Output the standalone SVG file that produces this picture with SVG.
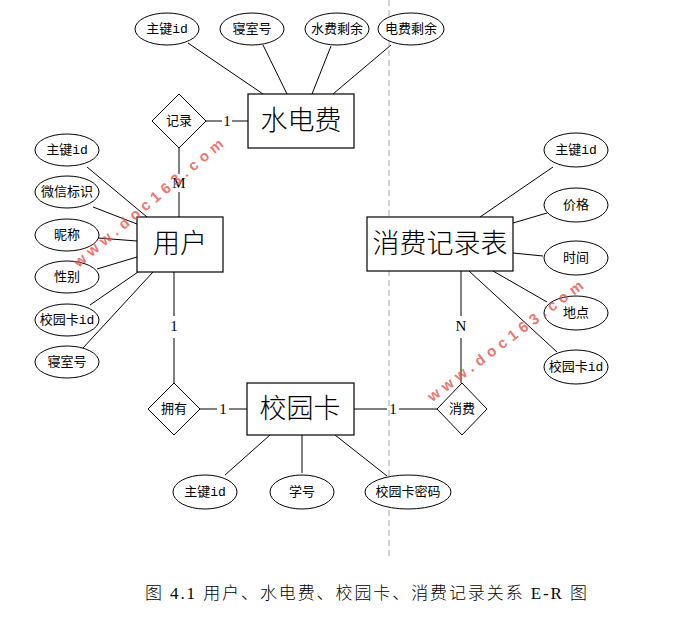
<svg xmlns="http://www.w3.org/2000/svg" width="682" height="620" viewBox="0 0 682 620">
<style>
.ent{fill:#fff;stroke:#000;stroke-width:1.2}
.att{fill:#fff;stroke:#000;stroke-width:1}
.rel{fill:#fff;stroke:#000;stroke-width:1}
.ln{stroke:#000;stroke-width:1;fill:none}
.et{font-family:"Liberation Serif","Noto Sans CJK SC",serif;font-size:27px;font-weight:300;text-anchor:middle;dominant-baseline:central}
.at{font-family:"Liberation Mono","Noto Sans CJK SC",monospace;font-size:13px;text-anchor:middle;dominant-baseline:central}
.card{font-family:"Liberation Serif",serif;font-size:15px;text-anchor:middle;dominant-baseline:central}
.cap{font-family:"Liberation Serif","Noto Sans CJK SC",serif;font-size:17px;font-weight:300}
.wm{font-family:"Liberation Sans",sans-serif;font-size:15px;font-weight:bold;fill:#e8504a;fill-opacity:0.8;letter-spacing:5px;text-anchor:middle;dominant-baseline:central}
</style>
<rect width="682" height="620" fill="#fff"/>
<line x1="389" y1="0" x2="389" y2="560" stroke="#aaa" stroke-width="1" stroke-dasharray="6,4"/>
<g id="connectors">
<line class="ln" x1="188" y1="43" x2="263" y2="94"/>
<line class="ln" x1="263" y1="45" x2="287" y2="94"/>
<line class="ln" x1="331" y1="46" x2="312" y2="94"/>
<line class="ln" x1="391" y1="45" x2="333" y2="94"/>
<line class="ln" x1="206" y1="121" x2="222" y2="121"/>
<line class="ln" x1="232" y1="121" x2="248" y2="121"/>
<line class="ln" x1="179" y1="148" x2="179" y2="174"/>
<line class="ln" x1="179" y1="192" x2="179" y2="217"/>
<line class="ln" x1="87" y1="167" x2="147" y2="217"/>
<line class="ln" x1="93" y1="207" x2="137" y2="224"/>
<line class="ln" x1="98" y1="238" x2="137" y2="241"/>
<line class="ln" x1="97" y1="269" x2="137" y2="257"/>
<line class="ln" x1="90" y1="305" x2="138" y2="272"/>
<line class="ln" x1="83" y1="348" x2="153" y2="272"/>
<line class="ln" x1="174" y1="272" x2="174" y2="316"/>
<line class="ln" x1="174" y1="338" x2="174" y2="383"/>
<line class="ln" x1="200" y1="409" x2="217" y2="409"/>
<line class="ln" x1="229" y1="409" x2="247" y2="409"/>
<line class="ln" x1="354" y1="409" x2="387" y2="409"/>
<line class="ln" x1="399" y1="409" x2="437" y2="409"/>
<line class="ln" x1="461" y1="271" x2="461" y2="316"/>
<line class="ln" x1="461" y1="338" x2="461" y2="383"/>
<line class="ln" x1="553" y1="167" x2="480" y2="217"/>
<line class="ln" x1="547" y1="213" x2="513" y2="223"/>
<line class="ln" x1="543" y1="256" x2="513" y2="253"/>
<line class="ln" x1="547" y1="302" x2="493" y2="271"/>
<line class="ln" x1="557" y1="352" x2="469" y2="271"/>
<line class="ln" x1="225" y1="475" x2="270" y2="435"/>
<line class="ln" x1="302" y1="473" x2="302" y2="435"/>
<line class="ln" x1="387" y1="476" x2="335" y2="435"/>
<text class="card" x="227" y="121">1</text>
<text class="card" x="179" y="183">M</text>
<text class="card" x="174" y="326">1</text>
<text class="card" x="223" y="409">1</text>
<text class="card" x="393" y="409">1</text>
<text class="card" x="461" y="326">N</text>
</g>
<g id="e_sdf"><rect class="ent" x="248" y="94" width="106" height="54"/><text class="et" x="301" y="121">水电费</text></g>
<g id="e_user"><rect class="ent" x="137" y="217" width="86" height="55"/><text class="et" x="180" y="244">用户</text></g>
<g id="e_xfjl"><rect class="ent" x="367" y="217" width="146" height="54"/><text class="et" x="440" y="244">消费记录表</text></g>
<g id="e_card"><rect class="ent" x="247" y="383" width="107" height="52"/><text class="et" x="300" y="409">校园卡</text></g>
<g id="r_jl"><polygon class="rel" points="179,94 206,121 179,148 152,121"/><text class="at" x="179" y="121">记录</text></g>
<g id="r_yy"><polygon class="rel" points="174,383 200,409 174,435 148,409"/><text class="at" x="174" y="409">拥有</text></g>
<g id="r_xf"><polygon class="rel" points="462,383 487,409 462,435 437,409"/><text class="at" x="462" y="409">消费</text></g>
<g id="a_sdf_id"><ellipse class="att" cx="167" cy="29" rx="32" ry="16"/><text class="at" x="167" y="29">主键id</text></g>
<g id="a_sdf_qsh"><ellipse class="att" cx="252" cy="29" rx="32" ry="16"/><text class="at" x="252" y="29">寝室号</text></g>
<g id="a_sdf_sf"><ellipse class="att" cx="337" cy="29" rx="32" ry="16"/><text class="at" x="337" y="29">水费剩余</text></g>
<g id="a_sdf_df"><ellipse class="att" cx="411" cy="29" rx="33" ry="16"/><text class="at" x="411" y="29">电费剩余</text></g>
<g id="a_u_id"><ellipse class="att" cx="67" cy="150" rx="32" ry="16"/><text class="at" x="67" y="150">主键id</text></g>
<g id="a_u_wx"><ellipse class="att" cx="67" cy="192" rx="32" ry="16"/><text class="at" x="67" y="192">微信标识</text></g>
<g id="a_u_nc"><ellipse class="att" cx="67" cy="235" rx="32" ry="16"/><text class="at" x="67" y="235">昵称</text></g>
<g id="a_u_xb"><ellipse class="att" cx="67" cy="277" rx="32" ry="16"/><text class="at" x="67" y="277">性别</text></g>
<g id="a_u_card"><ellipse class="att" cx="67" cy="320" rx="32" ry="16"/><text class="at" x="67" y="320">校园卡id</text></g>
<g id="a_u_qsh"><ellipse class="att" cx="67" cy="362" rx="32" ry="16"/><text class="at" x="67" y="362">寝室号</text></g>
<g id="a_x_id"><ellipse class="att" cx="576" cy="150" rx="32" ry="17"/><text class="at" x="576" y="150">主键id</text></g>
<g id="a_x_jg"><ellipse class="att" cx="576" cy="205" rx="32" ry="17"/><text class="at" x="576" y="205">价格</text></g>
<g id="a_x_sj"><ellipse class="att" cx="576" cy="258" rx="32" ry="17"/><text class="at" x="576" y="258">时间</text></g>
<g id="a_x_dd"><ellipse class="att" cx="576" cy="313" rx="32" ry="17"/><text class="at" x="576" y="313">地点</text></g>
<g id="a_x_card"><ellipse class="att" cx="576" cy="367" rx="32" ry="17"/><text class="at" x="576" y="367">校园卡id</text></g>
<g id="a_c_id"><ellipse class="att" cx="205" cy="492" rx="32" ry="17"/><text class="at" x="205" y="492">主键id</text></g>
<g id="a_c_xh"><ellipse class="att" cx="302" cy="492" rx="32" ry="17"/><text class="at" x="302" y="492">学号</text></g>
<g id="a_c_mm"><ellipse class="att" cx="408" cy="492" rx="43" ry="17"/><text class="at" x="408" y="492">校园卡密码</text></g>
<text class="wm" transform="translate(150,201) rotate(-40)">www.doc163.com</text>
<text class="wm" transform="translate(507,339) rotate(-37)">www.doc163.com</text>
<text class="cap" x="145" y="599" textLength="442">图 4.1 用户、水电费、校园卡、消费记录关系 E-R 图</text>
</svg>
